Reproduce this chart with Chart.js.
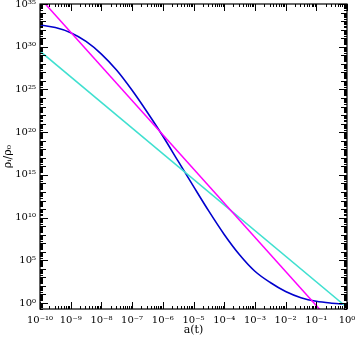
<!DOCTYPE html>
<html>
<head>
<meta charset="utf-8">
<script src="https://cdn.jsdelivr.net/npm/chart.js@4.4.1/dist/chart.umd.min.js"></script>
<style>
  html, body { margin: 0; padding: 0; background: #fff; }
  #wrap { width: 355px; height: 337px; }
</style>
</head>
<body>
<div id="wrap"><canvas id="densChart"></canvas></div>
<script>
// tick values
const xTicks = [1e-10, 1e-9, 1e-8, 1e-7, 1e-6, 1e-5, 1e-4, 1e-3, 1e-2, 1e-1, 1];
const yTicks = [1, 1e5, 1e10, 1e15, 1e20, 1e25, 1e30, 1e35];

// radiation (magenta) and matter (cyan) - straight lines in log-log
const radA = [1e-10, 1];
const radRho = [5e35, 5e-5];
const matA = [1e-10, 1];
const matRho = [3e29, 0.3];

// scalar field (blue), read at half decades
const fieldA = [1e-10, 3.16e-10, 1e-9, 3.16e-9, 1e-8, 3.16e-8, 1e-7, 3.16e-7, 1e-6, 3.16e-6, 1e-5,
                3.16e-5, 1e-4, 3.16e-4, 1e-3, 3.16e-3, 1e-2, 3.16e-2, 0.1, 0.316, 1];
const fieldRho = [3.47e32, 1.74e32, 4.37e31, 4.17e30, 1.38e29, 1.74e27, 7.94e24, 2.0e22, 3.55e19, 3.98e16, 4.47e13,
                  5.62e10, 1.07e8, 4.47e5, 5250, 251, 22.4, 4.27, 1.58, 0.955, 0.708];

const sup = {'-': '⁻', '0': '⁰', '1': '¹', '2': '²', '3': '³', '4': '⁴', '5': '⁵', '6': '⁶', '7': '⁷', '8': '⁸', '9': '⁹'};
function powLabel(v) {
    const e = String(Math.round(Math.log10(v)));
    return '10' + e.split('').map(c => sup[c]).join('');
}
function pts(xs, ys) {
    return xs.map((x, i) => ({x: x, y: ys[i]}));
}

// frame + inward ticks on all four sides
const frameTicks = {
    id: 'frameTicks',
    afterDraw(chart) {
        const ctx = chart.ctx;
        const a = chart.chartArea;
        const sx = chart.scales.x, sy = chart.scales.y;
        ctx.save();
        ctx.strokeStyle = '#000';
        ctx.lineWidth = 1.2;
        ctx.strokeRect(a.left, a.top, a.right - a.left, a.bottom - a.top);
        ctx.lineWidth = 1;
        ctx.beginPath();
        for (let e = -10; e <= 0; e++) {
            for (let m = 1; m <= 9; m++) {
                const v = m * Math.pow(10, e);
                if (v > 1.0001) break;
                const px = Math.round(sx.getPixelForValue(v)) + 0.5;
                const len = m === 1 ? 7 : 3;
                ctx.moveTo(px, a.bottom); ctx.lineTo(px, a.bottom - len);
                ctx.moveTo(px, a.top); ctx.lineTo(px, a.top + len);
            }
        }
        for (let e = -1; e <= 35; e++) {
            for (let m = 1; m <= 9; m++) {
                const v = m * Math.pow(10, e);
                if (v < 0.2 || v > 1.0001e35) continue;
                const py = Math.round(sy.getPixelForValue(v)) + 0.5;
                let len = m === 1 ? 6 : 3;
                if (m === 1 && e % 5 === 0) len = 8;
                ctx.moveTo(a.left, py); ctx.lineTo(a.left + len, py);
                ctx.moveTo(a.right, py); ctx.lineTo(a.right - len, py);
            }
        }
        ctx.stroke();
        ctx.restore();
    }
};

const serif = "'DejaVu Serif', 'Liberation Serif', serif";

new Chart(document.getElementById('densChart'), {
    type: 'line',
    data: {
        datasets: [
            {data: pts(radA, radRho), borderColor: '#ff00ff', borderWidth: 1.5},
            {data: pts(matA, matRho), borderColor: '#40e0d0', borderWidth: 1.5},
            {data: pts(fieldA, fieldRho), borderColor: '#0000cd', borderWidth: 1.6,
             cubicInterpolationMode: 'monotone'}
        ]
    },
    plugins: [frameTicks],
    options: {
        responsive: true,
        maintainAspectRatio: false,
        animation: false,
        layout: {padding: {top: 4, right: 8, left: 0, bottom: 0}},
        elements: {point: {radius: 0}},
        plugins: {legend: {display: false}, tooltip: {enabled: false}},
        scales: {
            x: {
                type: 'logarithmic',
                min: 1e-10,
                max: 1,
                afterBuildTicks: (s) => { s.ticks = xTicks.map(v => ({value: v})); },
                afterFit: (s) => { s.height = 28; s.paddingLeft = 0; s.paddingRight = 0; },
                grid: {display: false, drawTicks: false},
                border: {display: false},
                ticks: {
                    autoSkip: false, maxRotation: 0, padding: 5,
                    color: '#000', font: {family: serif, size: 10},
                    callback: (v) => powLabel(v)
                },
                title: {display: true, text: 'a(t)', color: '#000',
                        font: {family: serif, size: 11}, padding: {top: 0, bottom: 0}}
            },
            y: {
                type: 'logarithmic',
                min: 0.2,
                max: 1e35,
                afterBuildTicks: (s) => { s.ticks = yTicks.map(v => ({value: v})); },
                afterFit: (s) => { s.width = 40; s.paddingTop = 0; s.paddingBottom = 0; },
                grid: {display: false, drawTicks: false},
                border: {display: false},
                ticks: {
                    autoSkip: false, padding: 4,
                    color: '#000', font: {family: serif, size: 10},
                    callback: (v) => powLabel(v)
                },
                title: {display: true, text: 'ρᵢ/ρ₀', color: '#000',
                        font: {family: serif, size: 11}, padding: {top: 2, bottom: 0}}
            }
        }
    }
});
</script>
</body>
</html>
